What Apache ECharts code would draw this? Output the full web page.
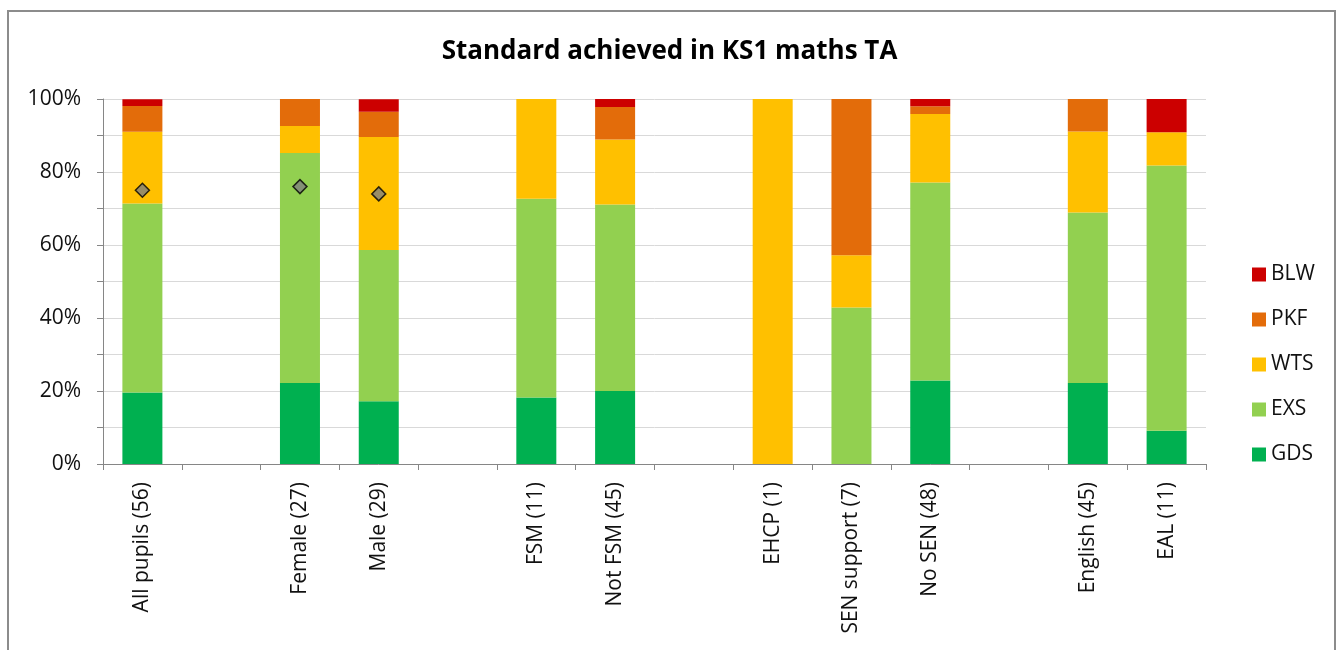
<!DOCTYPE html>
<html>
<head>
<meta charset="utf-8">
<script src="https://cdn.jsdelivr.net/npm/echarts@6/dist/echarts.min.js"></script>
<style>
  html, body { margin: 0; padding: 0; background: #fff; }
  #chart { width: 1339px; height: 650px; }
</style>
</head>
<body>
<div id="chart"></div>
<script>
// categories (blank ones are the gaps between groups)
var categories = ['All pupils (56)', '', 'Female (27)', 'Male (29)', '', 'FSM (11)', 'Not FSM (45)', '',
  'EHCP (1)', 'SEN support (7)', 'No SEN (48)', '', 'English (45)', 'EAL (11)'];

// percentages per standard
var gds = [19.6, '-', 22.2, 17.2, '-', 18.2, 20.0, '-', 0, 0, 22.9, '-', 22.2, 9.1];
var exs = [51.8, '-', 63.0, 41.4, '-', 54.5, 51.1, '-', 0, 42.9, 54.2, '-', 46.7, 72.7];
var wts = [19.6, '-', 7.4, 31.0, '-', 27.3, 17.8, '-', 100, 14.3, 18.8, '-', 22.2, 9.1];
var pkf = [7.1, '-', 7.4, 6.9, '-', 0, 8.9, '-', 0, 42.9, 2.1, '-', 8.9, 0];
var blw = [1.8, '-', 0, 3.4, '-', 0, 2.2, '-', 0, 0, 2.1, '-', 0, 9.1];

// diamonds (national comparison)
var natAvg = [75, '-', 76, 74, '-', '-', '-', '-', '-', '-', '-', '-', '-', '-'];

var yTicks = [0, 20, 40, 60, 80, 100];

var chart = echarts.init(document.getElementById('chart'));
var txt = '#111';
var fnt = '"Open Sans", "Noto Sans", sans-serif';

function bar(name, data, color) {
  return {
    name: name,
    type: 'bar',
    stack: 'std',
    barWidth: 40,
    itemStyle: { color: color },
    data: data
  };
}

chart.setOption({
  animation: false,
  textStyle: { fontFamily: fnt },
  title: {
    text: 'Standard achieved in KS1 maths TA',
    left: 'center',
    top: 34,
    textStyle: { fontFamily: fnt, fontSize: 26, fontWeight: 'bold', color: '#000' }
  },
  graphic: [{
    type: 'rect',
    shape: { x: 8, y: 11, width: 1327, height: 700 },
    style: { fill: 'none', stroke: '#8c8c8c', lineWidth: 2 },
    silent: true
  }],
  legend: {
    orient: 'vertical',
    left: 1247,
    top: 259,
    itemWidth: 14,
    itemHeight: 14,
    itemGap: 24,
    icon: 'rect',
    data: ['BLW', 'PKF', 'WTS', 'EXS', 'GDS'],
    textStyle: { fontFamily: fnt, fontSize: 21, color: txt }
  },
  grid: { left: 103, right: 133, top: 99, bottom: 186 },
  xAxis: {
    type: 'category',
    data: categories,
    axisLine: { lineStyle: { color: '#868686', width: 1 } },
    axisTick: { show: true, length: 6, lineStyle: { color: '#868686' } },
    axisLabel: {
      rotate: 90,
      interval: 0,
      margin: 18,
      fontSize: 21,
      color: txt,
      fontFamily: fnt
    }
  },
  yAxis: {
    type: 'value',
    min: 0,
    max: 100,
    interval: 10,
    axisLine: { show: true, lineStyle: { color: '#868686' } },
    axisTick: { show: true, length: 6, lineStyle: { color: '#868686' } },
    splitLine: { lineStyle: { color: '#d9d9d9', width: 1 } },
    axisLabel: {
      fontSize: 21,
      color: txt,
      fontFamily: fnt,
      margin: 22,
      formatter: function (v) {
        return yTicks.indexOf(v) >= 0 ? v + '%' : '';
      }
    }
  },
  series: [
    bar('GDS', gds, '#00b050'),
    bar('EXS', exs, '#92d050'),
    bar('WTS', wts, '#ffc000'),
    bar('PKF', pkf, '#e36c0a'),
    bar('BLW', blw, '#cc0000'),
    {
      name: 'National',
      type: 'scatter',
      symbol: 'diamond',
      symbolSize: 14,
      itemStyle: { color: '#808080', borderColor: '#000', borderWidth: 1.5 },
      data: natAvg,
      z: 5
    }
  ]
});
</script>
</body>
</html>
